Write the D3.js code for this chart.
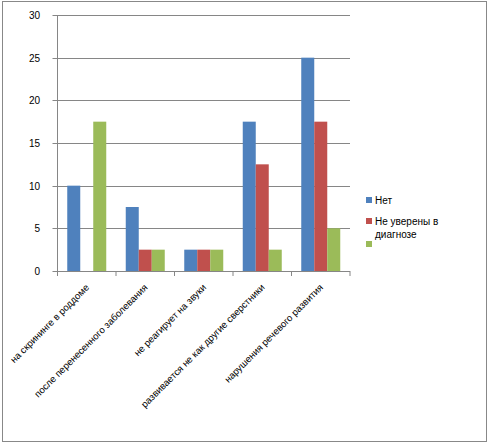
<!DOCTYPE html>
<html><head><meta charset="utf-8">
<script src="https://cdn.jsdelivr.net/npm/d3@7"></script>
<style>body{margin:0;background:#fff}</style>
</head><body>
<svg id="c" width="490" height="445"></svg>
<script>
const categories = ["на скрининге в роддоме","после перенесенного заболевания","не реагирует на звуки","развивается не как другие сверстники","нарушения речевого развития"];
const seriesNames = ["Нет","Не уверены в диагнозе",""];
const seriesNet = [10,7.5,2.5,17.5,25];
const seriesUnsure = [0,2.5,2.5,12.5,17.5];
const seriesThird = [17.5,2.5,2.5,2.5,5];
const yTicks = [0,5,10,15,20,25,30];
const colors = ["#4F81BD","#C0504D","#9BBB59"];

const series = [seriesNet, seriesUnsure, seriesThird];
const svg = d3.select("#c");
const font = "Liberation Sans, Arial, sans-serif";
svg.append("rect").attr("x",2.5).attr("y",1.5).attr("width",484).attr("height",440)
  .attr("fill","#fff").attr("stroke","#888").attr("stroke-width",1);

const L=57.5, R=350, T=15, B=271;
const x = d3.scaleBand().domain(categories).range([L,R]).paddingInner(0).paddingOuter(0);
const y = d3.scaleLinear().domain([0,30]).range([B,T]);
const bw = x.bandwidth()/4.5;
const xs = d3.scaleBand().domain([0,1,2]).range([bw*0.75, bw*3.75]);

const g = svg.append("g");
g.selectAll("line.grid").data(yTicks).join("line")
  .attr("x1",L).attr("x2",R).attr("y1",d=>Math.round(y(d))+0.5).attr("y2",d=>Math.round(y(d))+0.5)
  .attr("stroke","#868686");
g.selectAll("line.yt").data(yTicks).join("line")
  .attr("x1",L-5).attr("x2",L).attr("y1",d=>Math.round(y(d))+0.5).attr("y2",d=>Math.round(y(d))+0.5)
  .attr("stroke","#868686");
g.selectAll("text.yl").data(yTicks).join("text")
  .attr("x",40).attr("y",d=>y(d)+4).attr("text-anchor","end")
  .attr("font-family",font).attr("font-size",10).attr("fill","#000").text(d=>d);

series.forEach((s,i)=>{
  g.selectAll("rect.s"+i).data(s).join("rect")
    .attr("x",(d,j)=>x(categories[j])+xs(i)).attr("width",xs.bandwidth())
    .attr("y",d=>y(d)).attr("height",d=>B-y(d)).attr("fill",colors[i]);
});

g.append("line").attr("x1",L).attr("x2",L).attr("y1",T).attr("y2",B).attr("stroke","#868686");
g.append("line").attr("x1",L).attr("x2",R).attr("y1",B+0.5).attr("y2",B+0.5).attr("stroke","#868686");
const bounds = categories.map(c=>x(c)).concat([R]);
g.selectAll("line.xt").data(bounds).join("line")
  .attr("x1",d=>d).attr("x2",d=>d).attr("y1",B).attr("y2",B+5).attr("stroke","#868686");

g.selectAll("text.xl").data(categories).join("text")
  .attr("transform",d=>`translate(${x(d)+x.bandwidth()/2+3},${B+17}) rotate(-45)`)
  .attr("text-anchor","end").attr("font-family",font).attr("font-size",9.6).attr("fill","#000").text(d=>d);

const leg = svg.append("g");
const legY = [197,218,241];
seriesNames.forEach((n,i)=>{
  leg.append("rect").attr("x",366).attr("y",legY[i]).attr("width",6).attr("height",6).attr("fill",colors[i]);
});
leg.append("text").attr("x",375).attr("y",204).attr("font-family",font).attr("font-size",10).text(seriesNames[0]);
const t2 = leg.append("text").attr("font-family",font).attr("font-size",10);
t2.append("tspan").attr("x",375).attr("y",225).text("Не уверены в");
t2.append("tspan").attr("x",375).attr("y",238).text("диагнозе");
</script>
</body></html>
